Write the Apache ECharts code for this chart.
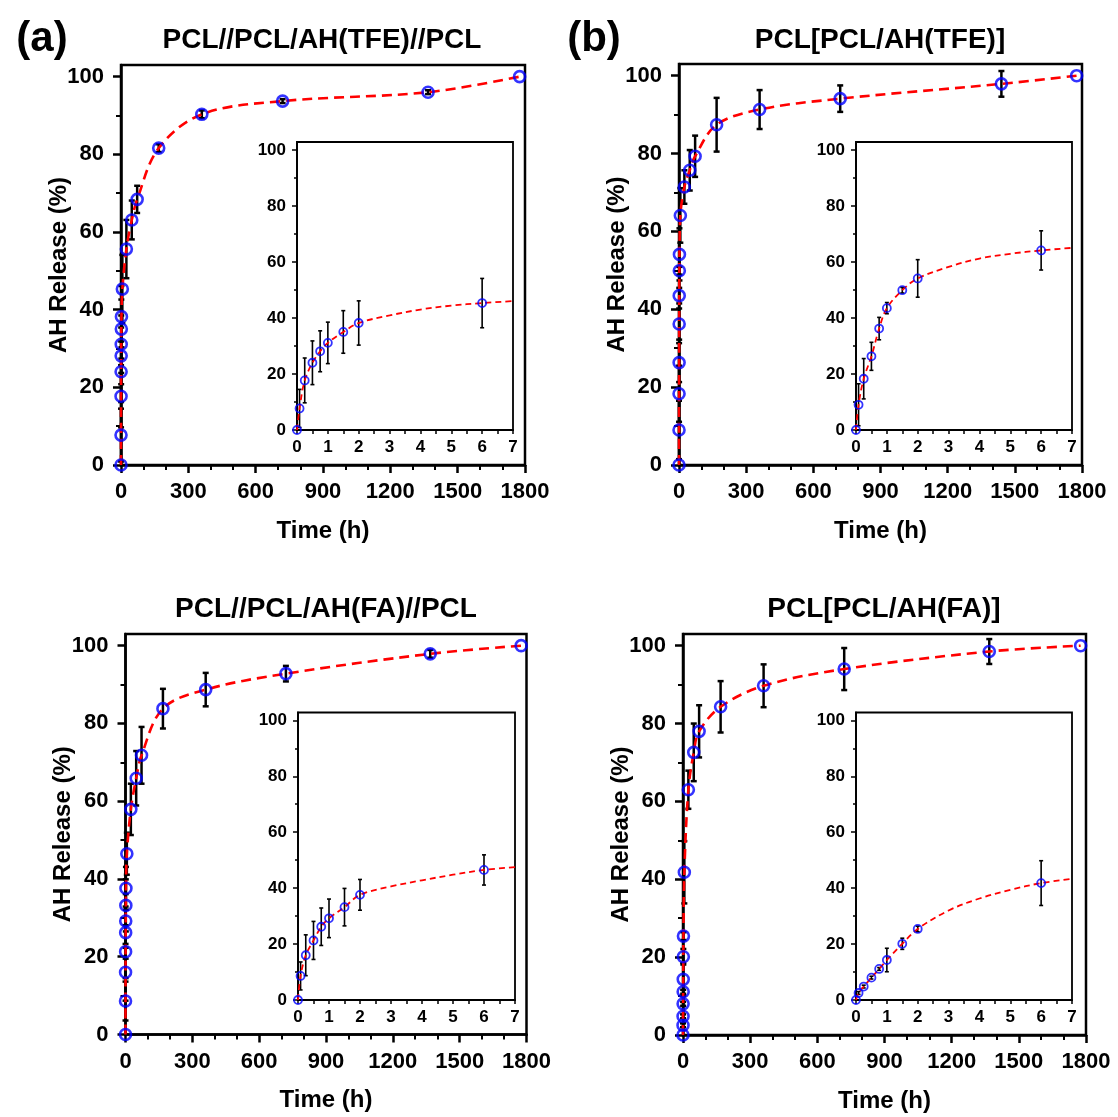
<!DOCTYPE html>
<html><head><meta charset="utf-8">
<script src="https://cdn.jsdelivr.net/npm/echarts@6/dist/echarts.min.js"></script>
<style>html,body{margin:0;padding:0;background:#fff}#c{width:1118px;height:1117px}</style>
</head><body><div id="c"></div>
<script>
// ---------- DATA ----------
const titles = ['PCL//PCL/AH(TFE)//PCL', 'PCL[PCL/AH(TFE)]', 'PCL//PCL/AH(FA)//PCL', 'PCL[PCL/AH(FA)]'];
const panelLetters = ['(a)', '(b)'];

const timeA = [0, 0.083, 0.25, 0.5, 0.75, 1, 1.5, 2, 6, 24, 48, 72, 168, 360, 720, 1368, 1776];
const releaseA = [0, 7.7, 17.7, 24.0, 28.1, 31.1, 35.0, 38.2, 45.3, 55.6, 63.1, 68.4, 81.6, 90.3, 93.7, 96.0, 100];
const errA = [0, 6.8, 8.0, 7.8, 7.3, 7.4, 7.6, 7.9, 8.8, 7.5, 5.0, 3.5, 1.0, 1.0, 0.5, 0.5, 0];

const timeB = [0, 0.083, 0.25, 0.5, 0.75, 1, 1.5, 2, 6, 24, 48, 72, 168, 360, 720, 1440, 1776];
const releaseB = [0, 9.0, 18.3, 26.3, 36.2, 43.5, 49.9, 54.1, 64.1, 71.4, 75.7, 79.3, 87.4, 91.3, 94.1, 97.9, 100];
const errB = [0, 7.5, 7.2, 5.0, 4.0, 2.0, 1.0, 6.7, 7.0, 4.3, 5.2, 5.3, 6.9, 5.0, 3.4, 3.3, 0];

const timeC = [0, 0.083, 0.25, 0.5, 0.75, 1, 1.5, 2, 6, 24, 48, 72, 168, 360, 720, 1368, 1776];
const releaseC = [0, 8.6, 16.0, 21.3, 26.2, 29.2, 33.2, 37.6, 46.5, 57.9, 65.9, 71.8, 83.8, 88.7, 92.8, 97.9, 100];
const errC = [0, 5.0, 7.3, 6.8, 6.7, 6.9, 6.7, 5.5, 5.4, 6.6, 7.0, 7.3, 5.1, 4.3, 2.0, 1.0, 0];

const timeD = [0, 0.083, 0.25, 0.5, 0.75, 1, 1.5, 2, 6, 24, 48, 72, 168, 360, 720, 1368, 1776];
const releaseD = [0, 2.5, 4.8, 8.0, 11.1, 14.3, 20.1, 25.4, 41.8, 63.0, 72.6, 78.0, 84.3, 89.7, 94.0, 98.5, 100];
const errD = [0, 0.5, 0.5, 0.5, 0.5, 4.2, 2.0, 1.0, 8.0, 4.9, 7.4, 6.7, 6.6, 5.5, 5.4, 3.2, 0];

// fitted curves shown in the insets
const fitTime = [0, 0.083, 0.25, 0.5, 0.75, 1, 1.5, 2, 3, 4, 5, 6, 7];
const fitA = [0, 7.7, 17.7, 24.0, 28.1, 31.1, 35.0, 38.2, 40.9, 43.0, 44.4, 45.3, 46.0];
const fitB = [0, 9.0, 18.3, 26.3, 36.2, 43.5, 49.9, 54.1, 58.2, 61.2, 62.9, 64.1, 65.0];
const fitC = [0, 8.6, 16.0, 21.3, 26.2, 29.2, 33.2, 37.6, 40.6, 42.8, 44.8, 46.5, 47.5];
const fitD = [0, 2.5, 4.8, 8.0, 11.1, 14.3, 20.1, 25.4, 32.0, 36.3, 39.4, 41.8, 43.3];

// tick labels
const mainXTicks = [0, 300, 600, 900, 1200, 1500, 1800];
const mainYTicks = [0, 20, 40, 60, 80, 100];
const minorYTicks = [10, 30, 50, 70, 90];
const insetXTicks = [0, 1, 2, 3, 4, 5, 6, 7];
const insetYTicks = [0, 20, 40, 60, 80, 100];
const xName = 'Time (h)';
const yName = 'AH Release (%)';

// ---------- LAYOUT ----------
const FONT = '"Liberation Sans", Arial, Helvetica, sans-serif';
const layout = [
  { main: {left: 121, top: 65, width: 404, height: 400}, inset: {left: 297, top: 142, width: 216, height: 288}, titleX: 322, titleY: 40 },
  { main: {left: 679, top: 64, width: 403, height: 401}, inset: {left: 856, top: 142, width: 216, height: 288}, titleX: 880, titleY: 40 },
  { main: {left: 125.5, top: 634, width: 401, height: 400.5}, inset: {left: 298, top: 712.5, width: 217, height: 287.5}, titleX: 326, titleY: 609 },
  { main: {left: 683, top: 634, width: 403, height: 401}, inset: {left: 856, top: 712.5, width: 216, height: 287.5}, titleX: 884, titleY: 609 }
];
const panels = [
  {t: timeA, v: releaseA, e: errA, fit: fitA},
  {t: timeB, v: releaseB, e: errB, fit: fitB},
  {t: timeC, v: releaseC, e: errC, fit: fitC},
  {t: timeD, v: releaseD, e: errD, fit: fitD}
];

const grid = [], xAxis = [], yAxis = [], series = [];
const txt = {color: '#000', fontWeight: 'bold', fontFamily: FONT};
const plain = function (v) { return String(v); };

function errRender(cap, lw) {
  return function (params, api) {
    const x = api.value(0), lo = api.value(1), hi = api.value(2);
    const p1 = api.coord([x, lo]), p2 = api.coord([x, hi]);
    const st = {stroke: '#000', lineWidth: lw};
    return {type: 'group', children: [
      {type: 'line', shape: {x1: p1[0], y1: p1[1], x2: p2[0], y2: p2[1]}, style: st},
      {type: 'line', shape: {x1: p1[0] - cap, y1: p1[1], x2: p1[0] + cap, y2: p1[1]}, style: st},
      {type: 'line', shape: {x1: p2[0] - cap, y1: p2[1], x2: p2[0] + cap, y2: p2[1]}, style: st}
    ]};
  };
}

panels.forEach(function (p, i) {
  const L = layout[i];
  const gMain = grid.length;
  grid.push(Object.assign({show: true, borderColor: '#000', borderWidth: 2.5, backgroundColor: '#fff'}, L.main));
  const gIn = grid.length;
  grid.push(Object.assign({show: true, borderColor: '#000', borderWidth: 1.8, backgroundColor: '#fff', z: 5}, L.inset));

  // main axes
  const xm = xAxis.length;
  xAxis.push({gridIndex: gMain, type: 'value', min: mainXTicks[0], max: mainXTicks[mainXTicks.length - 1], interval: mainXTicks[1] - mainXTicks[0],
    axisLine: {show: true, onZero: false, lineStyle: {color: '#000', width: 2.5}},
    axisTick: {show: true, inside: false, length: 8, lineStyle: {color: '#000', width: 2.5}},
    minorTick: {show: true, splitNumber: 3, length: 5, lineStyle: {color: '#000', width: 2}},
    axisLabel: Object.assign({fontSize: 22, margin: 16, formatter: plain}, txt),
    splitLine: {show: false},
    name: xName, nameLocation: 'middle', nameGap: 54, nameMoveOverlap: false, nameTextStyle: Object.assign({fontSize: 24}, txt)});
  const ym = yAxis.length;
  yAxis.push({gridIndex: gMain, type: 'value', min: 0, max: 103, position: 'left',
    axisLine: {show: true, onZero: false, lineStyle: {color: '#000', width: 2.5}},
    axisTick: {show: true, inside: false, length: 8, customValues: mainYTicks, lineStyle: {color: '#000', width: 2.5}},
    axisLabel: Object.assign({fontSize: 22, margin: 17, customValues: mainYTicks, formatter: plain}, txt),
    splitLine: {show: false},
    name: yName, nameLocation: 'middle', nameGap: 50, nameMoveOverlap: false, nameTextStyle: Object.assign({fontSize: 24}, txt)});
  yAxis.push({gridIndex: gMain, type: 'value', min: 0, max: 103, position: 'left',
    axisLine: {show: false}, axisLabel: {show: false}, splitLine: {show: false},
    axisTick: {show: true, inside: false, length: 5, customValues: minorYTicks, lineStyle: {color: '#000', width: 2}}});

  // inset axes
  const xi = xAxis.length;
  xAxis.push({gridIndex: gIn, type: 'value', min: insetXTicks[0], max: insetXTicks[insetXTicks.length - 1], interval: 1, z: 6,
    axisLine: {show: true, onZero: false, lineStyle: {color: '#000', width: 1.8}},
    axisTick: {show: true, inside: false, length: 4, lineStyle: {color: '#000', width: 1.5}},
    minorTick: {show: true, splitNumber: 2, length: 4, lineStyle: {color: '#000', width: 1.5}},
    axisLabel: Object.assign({fontSize: 17, margin: 9, formatter: plain}, txt),
    splitLine: {show: false}});
  const yi = yAxis.length;
  yAxis.push({gridIndex: gIn, type: 'value', min: 0, max: 102.8, position: 'left', z: 6,
    axisLine: {show: true, onZero: false, lineStyle: {color: '#000', width: 1.8}},
    axisTick: {show: true, inside: false, length: 5, customValues: insetYTicks, lineStyle: {color: '#000', width: 1.5}},
    axisLabel: Object.assign({fontSize: 17, margin: 11, customValues: insetYTicks, formatter: plain}, txt),
    splitLine: {show: false}});
  yAxis.push({gridIndex: gIn, type: 'value', min: 0, max: 102.8, position: 'left', z: 6,
    axisLine: {show: false}, axisLabel: {show: false}, splitLine: {show: false},
    axisTick: {show: true, inside: false, length: 3, customValues: minorYTicks, lineStyle: {color: '#000', width: 1.5}}});

  const pts = p.t.map(function (t, k) { return [t, p.v[k]]; });
  const errs = p.t.map(function (t, k) { return [t, p.v[k] - p.e[k], p.v[k] + p.e[k], p.e[k]]; })
                  .filter(function (d) { return d[3] > 0; });
  const inPts = pts.filter(function (d) { return d[0] <= 7; });
  const inErrs = errs.filter(function (d) { return d[0] <= 7; });
  const fitPts = fitTime.map(function (t, k) { return [t, p.fit[k]]; });

  // main series
  series.push({type: 'custom', xAxisIndex: xm, yAxisIndex: ym, renderItem: errRender(3, 2.5), data: errs, encode: {x: 0, y: [1, 2]}, z: 3, silent: true});
  series.push({type: 'line', xAxisIndex: xm, yAxisIndex: ym, data: pts, smooth: 0.35, symbol: 'none', clip: false,
    lineStyle: {color: '#ff0000', width: 2.6, type: [10, 6]}, z: 4, silent: true});
  series.push({type: 'scatter', xAxisIndex: xm, yAxisIndex: ym, data: pts, symbol: 'circle', symbolSize: 11, clip: false,
    itemStyle: {color: 'rgba(255,255,255,0)', borderColor: '#0000ff', borderWidth: 2.6}, z: 5, silent: true});
  // inset series
  series.push({type: 'custom', xAxisIndex: xi, yAxisIndex: yi, renderItem: errRender(2, 1.6), data: inErrs, encode: {x: 0, y: [1, 2]}, z: 7, silent: true});
  series.push({type: 'line', xAxisIndex: xi, yAxisIndex: yi, data: fitPts, smooth: 0.35, symbol: 'none', clip: false,
    lineStyle: {color: '#ff0000', width: 1.8, type: [6, 4]}, z: 8, silent: true});
  series.push({type: 'scatter', xAxisIndex: xi, yAxisIndex: yi, data: inPts, symbol: 'circle', symbolSize: 8, clip: false,
    itemStyle: {color: 'rgba(255,255,255,0)', borderColor: '#0000ff', borderWidth: 1.8}, z: 9, silent: true});
});

const graphic = [];
titles.forEach(function (t, i) {
  graphic.push({type: 'text', x: layout[i].titleX, y: layout[i].titleY,
    style: {text: t, fill: '#000', font: 'bold 28px ' + FONT, textAlign: 'center', textVerticalAlign: 'middle'}});
});
graphic.push({type: 'text', x: 42, y: 39, style: {text: panelLetters[0], fill: '#000', font: 'bold 42px ' + FONT, textAlign: 'center', textVerticalAlign: 'middle'}});
graphic.push({type: 'text', x: 594, y: 39, style: {text: panelLetters[1], fill: '#000', font: 'bold 42px ' + FONT, textAlign: 'center', textVerticalAlign: 'middle'}});

const chart = echarts.init(document.getElementById('c'), null, {renderer: 'canvas'});
chart.setOption({backgroundColor: '#fff', animation: false, grid: grid, xAxis: xAxis, yAxis: yAxis, series: series, graphic: graphic});
</script></body></html>
